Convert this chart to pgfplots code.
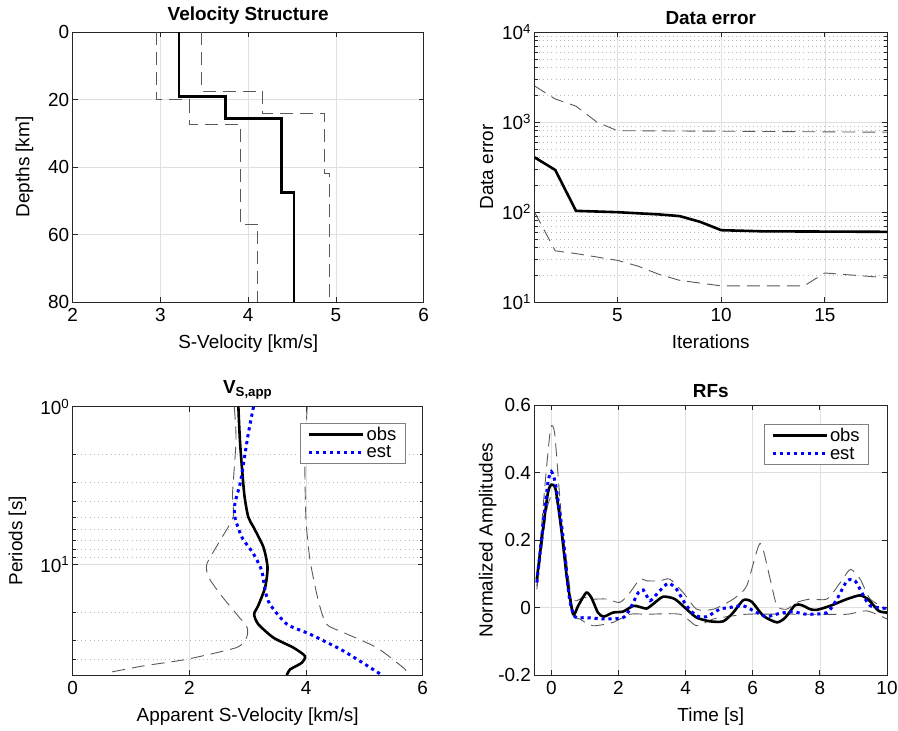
\documentclass[border=0pt]{standalone}
\usepackage{fontspec}
\setmainfont{Liberation Sans}
\usepackage{pgfplots}
\pgfplotsset{compat=1.18}
\newcommand\fs{\fontsize{19}{21}\selectfont}
\newcommand\lfs{\fontsize{18.5}{20}\selectfont}
\definecolor{dgray}{gray}{0.35}
\definecolor{axgray}{gray}{0.15}
\pgfplotsset{
 mystyle/.style={
  scale only axis, width=351bp, height=270bp,
  axis line style={axgray, line width=0.8bp},
  tick style={axgray, line width=0.8bp},
  major tick length=5bp, minor tick length=3bp,
  tick align=inside,
  xtick pos=both, ytick pos=both,
  grid=major,
  major grid style={black!12, line width=0.6bp},
  minor grid style={black!28, line width=0.7bp, dash pattern=on 0.8bp off 3.4bp},
  title style={font=\fs\bfseries, yshift=-2bp},
  label style={font=\fs},
  tick label style={font=\fs},
  xticklabel style={yshift=-3bp},
  xlabel style={yshift=-6bp},
  /pgf/number format/assume math mode=true,
  legend style={font=\lfs, draw=black!50, line width=0.6bp, at={(1,1)}, anchor=north east,
     inner xsep=7bp, inner ysep=4bp, row sep=4bp, cells={anchor=west},
     nodes={inner ysep=0bp}},
  legend image code/.code={\draw[##1] (0bp,0bp) -- (54bp,0bp);},
 },
 dash/.style={dgray, line width=0.9bp, dash pattern=on 13bp off 7bp},
 obs/.style={black, line width=2.6bp},
 est/.style={blue, line width=3bp, dash pattern=on 3.2bp off 3.8bp},
}
\begin{document}
\begin{tikzpicture}
% Panel 1
\begin{axis}[mystyle, at={(72.7bp,429bp)}, anchor=south west,
  xmin=2, xmax=6, ymin=0, ymax=80, y dir=reverse,
  xtick={2,3,4,5,6}, ytick={0,20,40,60,80},
  ylabel style={yshift=8bp},
  title={Velocity Structure}, xlabel={S-Velocity [km/s]}, ylabel={Depths [km]}]
\addplot[dash] coordinates {(2.96,0) (2.96,20.1) (3.33,20.1) (3.33,27.3) (3.91,27.3) (3.91,56.9) (4.11,56.9) (4.11,80)};
\addplot[dash] coordinates {(3.47,0) (3.47,17.5) (4.16,17.5) (4.16,24.1) (4.87,24.1) (4.87,42) (4.93,42) (4.93,80)};
\addplot[obs] coordinates {(3.21,0) (3.21,19.2) (3.74,19.2) (3.74,25.6) (4.38,25.6) (4.38,47.5) (4.52,47.5) (4.52,80)};
\end{axis}
% Panel 2
\begin{axis}[mystyle, at={(534.5bp,429bp)}, anchor=south west, width=352.5bp,
  xmin=1, xmax=18, ymin=10, ymax=10000, ymode=log,
  xtick={5,10,15}, ytick={10,100,1000,10000},
  yticklabels={10\textsuperscript{1},10\textsuperscript{2},10\textsuperscript{3},10\textsuperscript{4}},
  minor ytick={20,30,40,50,60,70,80,90,200,300,400,500,600,700,800,900,2000,3000,4000,5000,6000,7000,8000,9000},
  yminorgrids=true,
  ylabel style={yshift=2bp},
  title={Data error}, xlabel={Iterations}, ylabel={Data error}]
\addplot[dash] coordinates {(1,2520) (2,1800) (3,1500) (4,1000) (5,800) (10,790) (18,770)};
\addplot[dash] coordinates {(1,100) (2,37) (3,34.5) (5,29) (6,25) (7,20.3) (8,17.4) (10,15.1) (14,15.1) (15,21) (18,18.6)};
\addplot[obs] coordinates {(1,405) (2,293) (3,103) (5,99.5) (7,94) (8,90) (9,77.6) (10,62.8) (12,61) (18,60.2)};
\end{axis}
% Panel 3
\begin{axis}[mystyle, at={(72.7bp,56bp)}, anchor=south west, width=350bp, height=268.3bp,
  xmin=0, xmax=6, ymin=1, ymax=50, ymode=log, y dir=reverse,
  xtick={0,2,4,6}, ytick={1,10},
  yticklabels={10\textsuperscript{0},10\textsuperscript{1}},
  minor ytick={2,3,4,5,6,7,8,9,20,30,40},
  yminorgrids=true,
  ylabel style={yshift=7bp},
  legend style={xshift=-17bp, yshift=-16bp},
  title={V\textsubscript{S,app}}, xlabel={Apparent S-Velocity [km/s]}, ylabel={Periods [s]}]
\addplot[dash, smooth, tension=0.4, forget plot] coordinates {(2.77,1) (2.80,1.63) (2.74,3.55) (2.75,5) (2.53,7.0) (2.30,9.9) (2.33,12.0) (2.53,15.4) (2.81,20.6) (2.99,25) (2.98,29) (2.81,33.5) (1.95,39.8) (1.21,43.8) (0.61,48.3)};
\addplot[dash, smooth, tension=0.4, forget plot] coordinates {(4.02,1) (3.98,2.18) (4.0,5.25) (4.07,9.43) (4.21,16.9) (4.35,23.8) (4.64,26.9) (5.21,33.5) (5.67,45) (5.73,48.3)};
\addplot[obs, smooth, tension=0.4] coordinates {(2.84,1) (2.87,1.71) (2.94,3.55) (3.01,5.0) (3.10,5.79) (3.27,7.76) (3.34,10.4) (3.30,13.9) (3.18,18.2) (3.11,20.6) (3.18,23.8) (3.44,29) (3.78,33.5) (3.98,37.9) (3.93,41.8) (3.73,46) (3.67,50)};
\addlegendentry{obs}
\addplot[est, smooth, tension=0.4] coordinates {(3.10,1) (3.01,1.48) (2.91,2.53) (2.87,3.07) (2.78,4.11) (2.78,5.0) (2.90,6.7) (3.10,8.55) (3.24,10.9) (3.30,14.6) (3.38,17.8) (3.67,23.8) (4.07,27.6) (4.64,35.2) (5.30,50)};
\addlegendentry{est}
\end{axis}
% Panel 4
\begin{axis}[mystyle, at={(534.5bp,56bp)}, anchor=south west, width=352.5bp,
  xmin=-0.5, xmax=10, ymin=-0.2, ymax=0.6,
  xtick={0,2,4,6,8,10}, ytick={-0.2,0,0.2,0.4,0.6},
  /pgf/number format/.cd, fixed, precision=1, /pgfplots/.cd,
  ylabel style={yshift=-5bp},
  legend style={xshift=-18bp, yshift=-19bp},
  title={RFs}, xlabel={Time [s]}, ylabel={Normalized Amplitudes}]
\addplot[dash, smooth, tension=0.4, forget plot] coordinates {(-0.43,0.064) (-0.20,0.35) (-0.02,0.53) (0.10,0.516) (0.25,0.33) (0.47,0.064) (0.70,0.02) (0.95,0.03) (1.24,0.025) (1.64,0.025) (2.04,0.015) (2.34,0.044) (2.64,0.084) (2.84,0.079) (3.23,0.079) (3.53,0.084) (3.93,0.044) (4.33,-0.005) (4.83,-0.005) (5.42,0.025) (5.82,0.064) (6.22,0.19) (6.52,0.084) (6.72,0.005) (7.01,-0.005) (7.31,0.015) (7.71,0.025) (8.21,0.025) (8.61,0.074) (8.91,0.113) (9.20,0.084) (9.50,0.025) (10,-0.005)};
\addplot[dash, smooth, tension=0.4, forget plot] coordinates {(-0.43,0.054) (-0.15,0.28) (0,0.33) (0.15,0.32) (0.40,0.18) (0.65,-0.015) (0.85,-0.034) (1.24,-0.054) (1.84,-0.044) (2.34,-0.02) (2.84,-0.02) (3.83,-0.02) (4.33,-0.054) (4.83,-0.034) (5.82,-0.02) (6.82,-0.02) (7.81,-0.02) (8.81,-0.02) (9.40,-0.01) (10,-0.034)};
\addplot[obs, smooth, tension=0.4] coordinates {(-0.43,0.084) (-0.25,0.23) (-0.10,0.34) (0,0.364) (0.13,0.35) (0.30,0.23) (0.47,0.084) (0.65,-0.02) (0.80,0.005) (1.04,0.044) (1.19,0.03) (1.39,-0.015) (1.56,-0.027) (1.84,-0.015) (2.14,-0.012) (2.44,0.005) (2.62,0.002) (2.84,-0.003) (3.03,0.01) (3.33,0.032) (3.68,0.025) (4.03,-0.005) (4.33,-0.03) (4.73,-0.041) (5.12,-0.041) (5.42,-0.015) (5.72,0.022) (5.97,0.017) (6.32,-0.025) (6.72,-0.044) (6.97,-0.03) (7.26,0.007) (7.46,0.007) (7.71,-0.005) (7.91,-0.007) (8.31,0.005) (8.81,0.025) (9.20,0.036) (9.45,0.023) (9.75,-0.01) (10,-0.015)};
\addlegendentry{obs}
\addplot[est, smooth, tension=0.4] coordinates {(-0.43,0.074) (-0.25,0.24) (-0.10,0.37) (0,0.403) (0.13,0.364) (0.35,0.21) (0.53,0.034) (0.70,-0.027) (1.04,-0.03) (1.64,-0.034) (2.14,-0.03) (2.34,-0.005) (2.59,0.044) (2.74,0.052) (2.94,0.02) (3.18,0.044) (3.48,0.072) (3.73,0.054) (4.03,0.005) (4.33,-0.025) (4.63,-0.027) (5.02,-0.005) (5.32,0) (5.72,0.005) (6.12,-0.015) (6.42,-0.027) (6.82,-0.017) (7.21,-0.013) (7.61,-0.02) (8.21,-0.015) (8.51,0.025) (8.81,0.079) (9.05,0.079) (9.25,0.044) (9.50,0.005) (10,-0.003)};
\addlegendentry{est}
\end{axis}
\pgfresetboundingbox
\path[use as bounding box] (0,0) rectangle (898bp,731bp);
\end{tikzpicture}
\end{document}
